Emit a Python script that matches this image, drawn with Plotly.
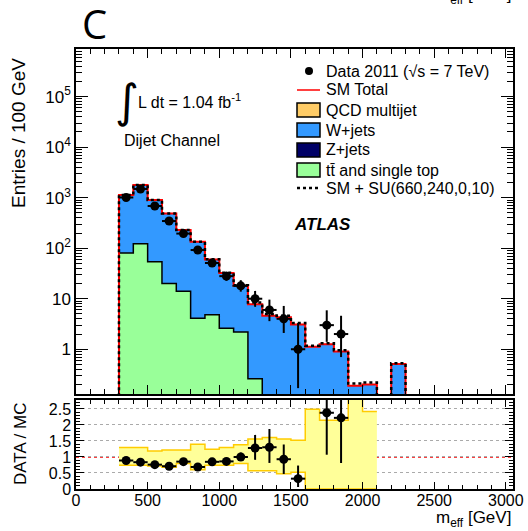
import numpy as np
import plotly.graph_objects as go

# ---------------- data ----------------
bin_lo = [300, 400, 500, 600, 700, 800, 900, 1000, 1100, 1200,
          1300, 1400, 1500, 1600, 1700, 1800, 1900, 2000, 2100, 2200]
ttbar = [80, 122, 54, 20, 14, 4.1, 4.8, 2.6, 2.2, 0.26,
         0, 0, 0, 0, 0, 0, 0, 0, 0, 0]
wjets = [1047, 1647, 841, 462, 213, 129, 55, 29.7, 15.7, 7.5,
         4.57, 4.28, 3.08, 1.11, 1.25, 0.9, 0.19, 0.2, 0, 0.51]
zjets = [6, 9, 4.5, 2.4, 1.1, 0.6, 0.3, 0.15, 0.1, 0.05,
         0.03, 0.02, 0.02, 0.01, 0.01, 0, 0, 0, 0, 0]
qcd = [1.5, 1.5, 0.8, 0.3, 0.1, 0, 0, 0, 0, 0,
       0, 0, 0, 0, 0, 0, 0, 0, 0, 0]
su_signal = [0, 0, 0, 0, 0, 0.5, 0.4, 0.4, 0.5, 0.6,
             0.4, 0.3, 0.2, 0.05, 0.05, 0.05, 0.02, 0.02, 0, 0.02]

data_x = [350, 450, 550, 650, 750, 850, 950, 1050, 1150, 1250,
          1350, 1450, 1550, 1650, 1750, 1850]
data_n = [1010, 1490, 685, 345, 195, 92, 51, 28, 18, 10, 6, 4, 1, 0, 3, 2]
data_err_up = [32, 39, 26, 19, 14, 10, 7.6, 6.3, 5.3, 4.3, 3.6, 3.2, 2.3, 0, 2.9, 2.6]
data_err_dn = [32, 39, 26, 19, 14, 9.6, 7.1, 5.3, 4.2, 3.1, 2.4, 1.9, 0.83, 0, 1.6, 1.3]

ratio_err_up = [0.04, 0.03, 0.03, 0.04, 0.05, 0.06, 0.07, 0.1, 0.14, 0.41,
                0.57, 0.46, 0.41, 0, 1.4, 1.6]
ratio_err_dn = [0.04, 0.03, 0.03, 0.04, 0.05, 0.06, 0.07, 0.1, 0.12, 0.37,
                0.49, 0.46, 0.26, 0, 1.31, 1.41]

band_lo_edges = [300, 400, 500, 600, 700, 800, 900, 1000, 1100, 1200,
                 1300, 1400, 1500, 1600, 1700, 1800, 1900, 2000]
band_hi = [1.30, 1.30, 1.19, 1.22, 1.22, 1.40, 1.24, 1.30, 1.38, 1.56,
           1.61, 1.56, 1.52, 2.49, 2.15, 2.15, 2.95, 2.42]
band_lo = [0.74, 0.74, 0.72, 0.68, 0.80, 0.60, 0.74, 0.74, 0.80, 0.57,
           0.57, 0.48, 0.52, 0, 0, 0, 0, 0]

y_tickvals = [1, 10, 100, 1e3, 1e4, 1e5]
y_ticktext = ["1", "10", "10<sup>2</sup>", "10<sup>3</sup>", "10<sup>4</sup>", "10<sup>5</sup>"]
r_tickvals = [0, 0.5, 1, 1.5, 2, 2.5]
r_ticktext = ["0", "0.5", "1", "1.5", "2", "2.5"]
x_tickvals = [0, 500, 1000, 1500, 2000, 2500, 3000]

# ---------------- styling ----------------
FONT = "Liberation Sans, Arial, Helvetica, sans-serif"
C_GREEN = "#99FF99"
C_BLUE = "#3399FF"
C_NAVY = "#000066"
C_QCD = "#FFCC66"
C_BAND = "#FFFF99"
C_BANDLINE = "#FFCC00"
BW = 100
FLOOR = 0.01

W, H = 528, 531
ML, MR, MT, MB = 76, 15, 49, 42
PW, PH = W - ML - MR, H - MT - MB


def pxx(x):
    return (x - ML) / PW


def pxy(y):
    return (H - MB - y) / PH


ttbar_a = np.array(ttbar, float)
w_a = np.array(wjets, float)
z_a = np.array(zjets, float)
q_a = np.array(qcd, float)
total = ttbar_a + w_a + z_a + q_a
sm_su = total + np.array(su_signal, float)
centers = np.array(bin_lo) + BW / 2


def step(lo, vals):
    v = [float(a) if a > 0 else FLOOR for a in vals]
    x = [lo[0]] + list(lo) + [lo[-1] + BW]
    y = [FLOOR] + v + [FLOOR]
    return x, y


fig = go.Figure()

# stacked fills
for vals, col in [(ttbar_a, C_GREEN), (w_a, C_BLUE), (z_a, C_NAVY), (q_a, C_QCD)]:
    fig.add_trace(go.Bar(x=centers, y=vals, width=BW, marker=dict(color=col, line=dict(width=0)),
                         showlegend=False, hoverinfo="skip", xaxis="x", yaxis="y"))

# outlines
sx, sy = step(bin_lo, ttbar_a)
fig.add_trace(go.Scatter(x=sx, y=sy, mode="lines", line=dict(color="black", width=1.5, shape="hv"),
                         showlegend=False, hoverinfo="skip"))
sx, sy = step(bin_lo, total)
fig.add_trace(go.Scatter(x=sx, y=sy, mode="lines", line=dict(color="red", width=2, shape="hv"),
                         showlegend=False, hoverinfo="skip"))
sx, sy = step(bin_lo, sm_su)
fig.add_trace(go.Scatter(x=sx, y=sy, mode="lines",
                         line=dict(color="black", width=2.5, shape="hv", dash="dot"),
                         showlegend=False, hoverinfo="skip"))

# data points
dn = np.array(data_n, float)
mask = dn > 0
dx = np.array(data_x)[mask]
fig.add_trace(go.Scatter(
    x=dx, y=dn[mask], mode="markers",
    marker=dict(color="black", size=9),
    error_y=dict(type="data", array=np.array(data_err_up)[mask], arrayminus=np.array(data_err_dn)[mask],
                 color="black", thickness=2, width=0),
    error_x=dict(type="constant", value=BW / 2, color="black", thickness=2, width=0),
    showlegend=False, hoverinfo="skip"))

# ---------------- ratio panel ----------------
bx = list(band_lo_edges) + [band_lo_edges[-1] + BW]
fig.add_trace(go.Scatter(x=bx, y=list(band_lo) + [band_lo[-1]], mode="lines",
                         line=dict(color=C_BANDLINE, width=1.5, shape="hv"),
                         xaxis="x2", yaxis="y2", showlegend=False, hoverinfo="skip"))
fig.add_trace(go.Scatter(x=bx, y=list(band_hi) + [band_hi[-1]], mode="lines",
                         line=dict(color=C_BANDLINE, width=1.5, shape="hv"),
                         fill="tonexty", fillcolor=C_BAND,
                         xaxis="x2", yaxis="y2", showlegend=False, hoverinfo="skip"))

tot_at_data = total[:len(data_n)]
ratio = dn / tot_at_data
fig.add_trace(go.Scatter(
    x=dx, y=ratio[mask], mode="markers",
    marker=dict(color="black", size=9),
    error_y=dict(type="data", array=np.array(ratio_err_up)[mask], arrayminus=np.array(ratio_err_dn)[mask],
                 color="black", thickness=2, width=0),
    error_x=dict(type="constant", value=BW / 2, color="black", thickness=2, width=0),
    xaxis="x2", yaxis="y2", showlegend=False, hoverinfo="skip"))

# ---------------- axes ----------------
main_bottom = pxy(394)
ratio_top = pxy(400)
axis_common = dict(showline=True, linecolor="black", linewidth=1.5, mirror="allticks",
                   ticks="inside", tickcolor="black", showgrid=False, zeroline=False,
                   automargin=False,
                   tickfont=dict(family=FONT, size=16, color="black"))

ymin_log = np.log10(0.13)
fig.update_layout(
    template="none",
    width=W, height=H,
    margin=dict(l=ML, r=MR, t=MT, b=MB, pad=0),
    paper_bgcolor="white", plot_bgcolor="white",
    barmode="stack", bargap=0,
    showlegend=False,
    xaxis=dict(domain=[0, 1], range=[0, 3050], anchor="y", tickvals=x_tickvals,
               showticklabels=False, ticklen=9, tickwidth=1.2,
               minor=dict(dtick=100, tick0=0, ticks="inside", ticklen=5, tickcolor="black"),
               **axis_common),
    yaxis=dict(domain=[main_bottom, 1], type="log", range=[ymin_log, 5.944], anchor="x",
               tickvals=y_tickvals, ticktext=y_ticktext, ticklen=12, tickwidth=1.2,
               minor=dict(tickvals=[k * 10.0 ** d for d in range(-1, 6) for k in range(2, 10)],
                          ticks="inside", ticklen=6, tickcolor="black"),
               **{**axis_common, "tickfont": dict(family=FONT, size=17, color="black")}),
    xaxis2=dict(domain=[0, 1], range=[0, 3050], anchor="y2", tickvals=x_tickvals,
                ticktext=[str(v) for v in x_tickvals], ticklen=7, tickwidth=1.2,
                ticklabelstandoff=-4,
                minor=dict(dtick=100, tick0=0, ticks="inside", ticklen=4, tickcolor="black"),
                **axis_common),
    yaxis2=dict(domain=[0, ratio_top], range=[0, 2.78], anchor="x2",
                tickvals=r_tickvals, ticktext=r_ticktext, ticklen=8, tickwidth=1.2,
                minor=dict(dtick=0.1, tick0=0, ticks="inside", ticklen=4, tickcolor="black"),
                **{**axis_common, "showgrid": True, "gridcolor": "#aaaaaa", "griddash": "dot",
                   "gridwidth": 1}),
)

shapes = []
annotations = []
# red line at 1 in ratio
shapes.append(dict(type="line", xref="x2 domain", x0=0, x1=1, yref="y2", y0=1, y1=1,
                   line=dict(color="red", width=1.5, dash="dot"), layer="below"))

# ---------------- legend (manual) ----------------
leg_rows = [71, 90, 110, 130, 150, 170, 188]
leg_text = ["Data 2011 (√s = 7 TeV)", "SM Total", "QCD multijet", "W+jets", "Z+jets",
            "tt̄ and single top", "SM + SU(660,240,0,10)"]
sx0, sx1 = 297, 320
for i, (yy, t) in enumerate(zip(leg_rows, leg_text)):
    annotations.append(dict(xref="paper", yref="paper", x=pxx(324), y=pxy(yy), text=t,
                            showarrow=False, xanchor="left", yanchor="middle",
                            font=dict(family=FONT, size=16, color="black")))
shapes.append(dict(type="circle", xref="paper", yref="paper",
                   x0=pxx(305), x1=pxx(313), y0=pxy(75), y1=pxy(67),
                   fillcolor="black", line=dict(color="black", width=0)))
shapes.append(dict(type="line", xref="paper", yref="paper", x0=pxx(sx0), x1=pxx(sx1),
                   y0=pxy(90), y1=pxy(90), line=dict(color="red", width=1.5)))
for yy, col in zip(leg_rows[2:6], [C_QCD, C_BLUE, C_NAVY, C_GREEN]):
    shapes.append(dict(type="rect", xref="paper", yref="paper", x0=pxx(sx0), x1=pxx(sx1),
                       y0=pxy(yy + 7), y1=pxy(yy - 7), fillcolor=col,
                       line=dict(color="black", width=1.5)))
shapes.append(dict(type="line", xref="paper", yref="paper", x0=pxx(sx0), x1=pxx(sx1),
                   y0=pxy(188), y1=pxy(188), line=dict(color="black", width=2.5, dash="dot")))

# ---------------- texts ----------------
annotations += [
    dict(xref="paper", yref="paper", x=pxx(80), y=pxy(24), text="C", showarrow=False,
         xanchor="left", yanchor="middle", font=dict(family="Open Sans, sans-serif", size=40, color="black")),
    dict(xref="paper", yref="paper", x=pxx(513), y=pxy(-4), text="m<sub>eff</sub> [GeV]", showarrow=False,
         xanchor="right", yanchor="middle", font=dict(family=FONT, size=17, color="black")),
    dict(xref="paper", yref="paper", x=pxx(113), y=pxy(101), text="∫", showarrow=False,
         xanchor="left", yanchor="middle", font=dict(family="DejaVu Sans, sans-serif", size=46, color="black")),
    dict(xref="paper", yref="paper", x=pxx(136), y=pxy(101), text="L dt = 1.04 fb<sup>-1</sup>",
         showarrow=False, xanchor="left", yanchor="middle",
         font=dict(family=FONT, size=16, color="black")),
    dict(xref="paper", yref="paper", x=pxx(122), y=pxy(140), text="Dijet Channel", showarrow=False,
         xanchor="left", yanchor="middle", font=dict(family=FONT, size=16, color="black")),
    dict(xref="paper", yref="paper", x=pxx(292), y=pxy(224), text="<b><i>ATLAS</i></b>", showarrow=False,
         xanchor="left", yanchor="middle", font=dict(family=FONT, size=17, color="black")),
    dict(xref="paper", yref="paper", x=pxx(18), y=pxy(133), text="Entries / 100 GeV", showarrow=False,
         textangle=-90, xanchor="center", yanchor="middle", font=dict(family=FONT, size=19, color="black")),
    dict(xref="paper", yref="paper", x=pxx(20), y=pxy(444), text="DATA / MC", showarrow=False,
         textangle=-90, xanchor="center", yanchor="middle", font=dict(family=FONT, size=17, color="black")),
    dict(xref="paper", yref="paper", x=pxx(513), y=pxy(519), text="m<sub>eff</sub> [GeV]", showarrow=False,
         xanchor="right", yanchor="middle", font=dict(family=FONT, size=17, color="black")),
]

fig.update_layout(shapes=shapes, annotations=annotations)
fig.write_html("out.html",
               config={"displayModeBar": False},
               post_script="document.body.style.margin='0';document.body.style.padding='0';"
                           "document.documentElement.style.overflow='hidden';")
